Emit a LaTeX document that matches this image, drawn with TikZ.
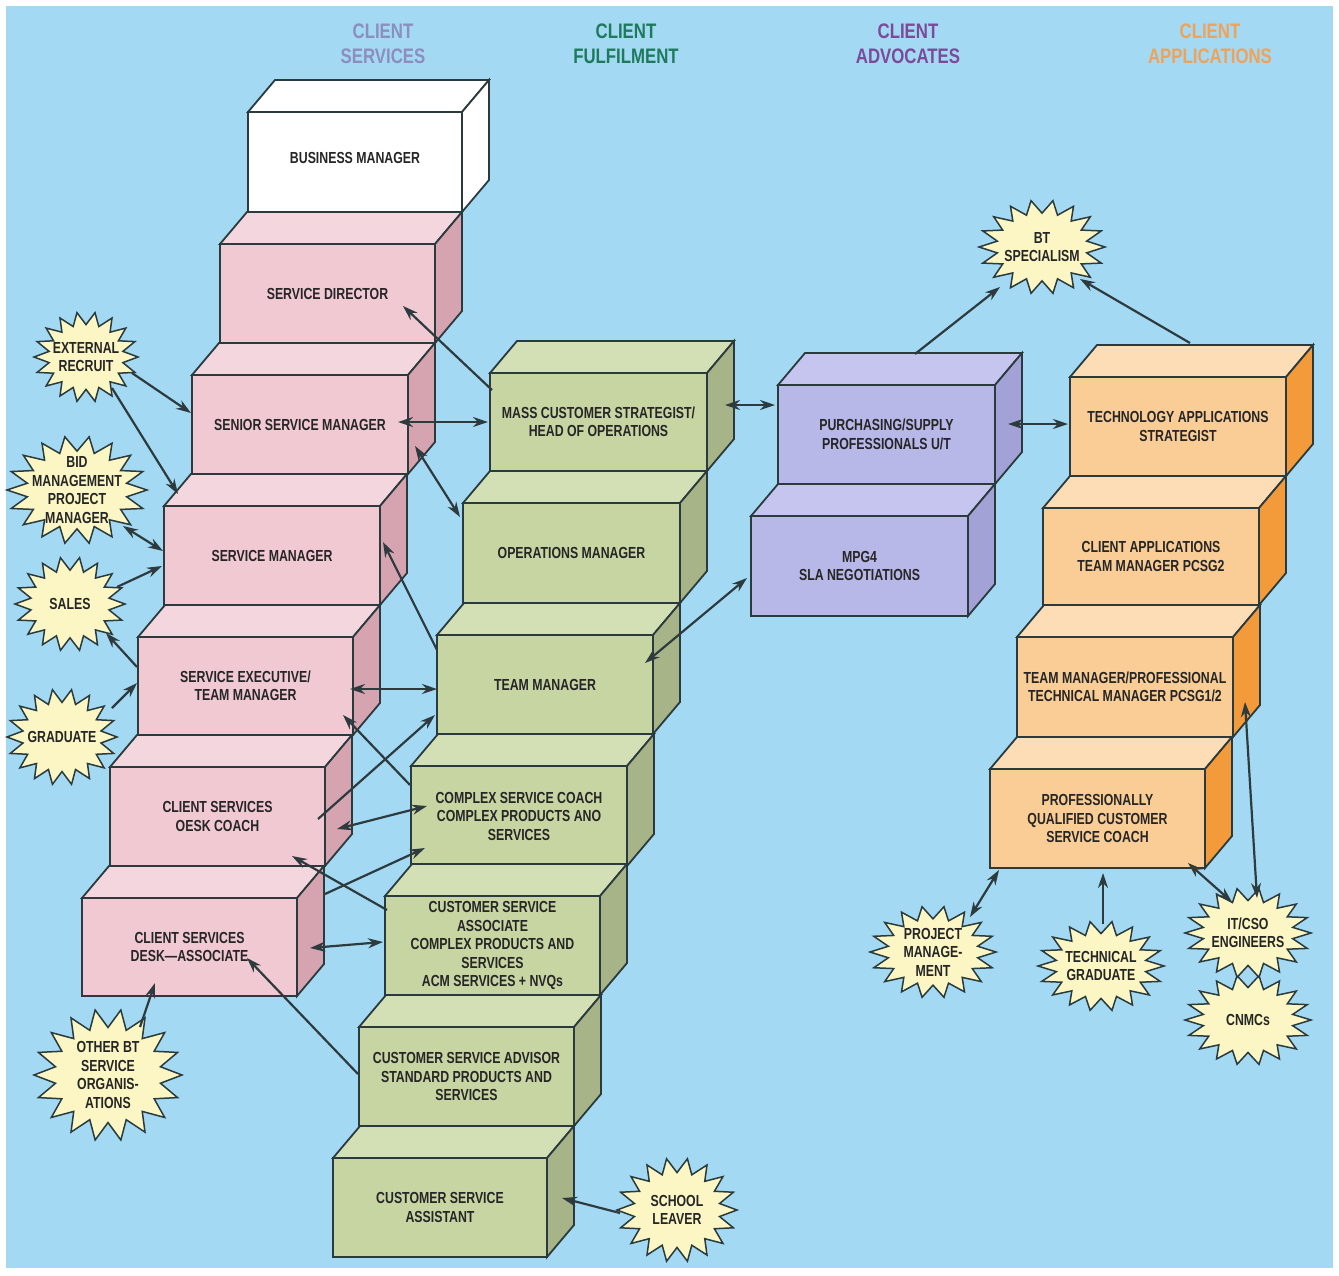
\documentclass[tikz,border=0pt]{standalone}
\usepackage{fontspec}
\newfontfamily\cf{Liberation Sans}[FakeStretch=0.77]
\newfontfamily\hf{Liberation Sans}[FakeStretch=0.8]
\usetikzlibrary{arrows.meta}
\definecolor{bg}{HTML}{A3D9F2}
\definecolor{edge}{HTML}{2B3A3C}
\definecolor{arrc}{HTML}{2E3B3E}
\definecolor{txt}{HTML}{262626}
\definecolor{pinkF}{HTML}{F0C9D3}
\definecolor{pinkT}{HTML}{F4D7DE}
\definecolor{pinkS}{HTML}{D6A3B1}
\definecolor{grnF}{HTML}{C7D5A3}
\definecolor{grnT}{HTML}{D3DFB5}
\definecolor{grnS}{HTML}{A7B487}
\definecolor{purF}{HTML}{B7B7E8}
\definecolor{purT}{HTML}{C5C5EF}
\definecolor{purS}{HTML}{A2A2D6}
\definecolor{orgF}{HTML}{FACD96}
\definecolor{orgT}{HTML}{FCDDB5}
\definecolor{orgS}{HTML}{F39A3A}
\definecolor{whtF}{HTML}{FFFFFF}
\definecolor{whtT}{HTML}{FFFFFF}
\definecolor{whtS}{HTML}{FFFFFF}
\definecolor{burstc}{HTML}{FBF6C4}
\definecolor{hdA}{HTML}{8C8EBE}
\definecolor{hdB}{HTML}{1E7A5C}
\definecolor{hdC}{HTML}{7B4A99}
\definecolor{hdD}{HTML}{EFA35A}
\tikzset{
  boxfront/.style={draw=edge, line width=1.8pt, outer sep=0pt, inner sep=1pt,
    align=center, text=txt, font=\cf\bfseries\fontsize{16}{18.5}\selectfont},
  boxedge/.style={draw=edge, line width=1.8pt, line join=miter},
  burstline/.style={draw=edge, fill=burstc, line width=1.5pt, line join=miter},
  bursttext/.style={align=center, inner sep=0pt, text=txt, font=\cf\bfseries\fontsize{16}{18.5}\selectfont},
  header/.style={align=center, inner sep=0pt, font=\hf\bfseries\fontsize{21}{24.5}\selectfont},
  arr/.style={draw=arrc, line width=2.2pt, -{Stealth[length=15pt,width=10pt]}},
  darr/.style={draw=arrc, line width=2.2pt, {Stealth[length=15pt,width=10pt]}-{Stealth[length=15pt,width=10pt]}}
}
\newcommand\dpx{27}
\newcommand\dpy{-32}
% name, L, T, R, B, colour prefix, text
\newcommand\cube[7]{%
  \node[boxfront, fill=#6F, minimum width={(#4-#2)*1pt}, minimum height={(#5-#3)*1pt}]
    (#1) at ({(#2+#4)/2},{(#3+#5)/2}) {#7};
  \filldraw[boxedge, fill=#6T] (#1.north west) -- ([shift={(\dpx,\dpy)}]#1.north west)
     -- ([shift={(\dpx,\dpy)}]#1.north east) -- (#1.north east) -- cycle;
  \filldraw[boxedge, fill=#6S] (#1.north east) -- ([shift={(\dpx,\dpy)}]#1.north east)
     -- ([shift={(\dpx,\dpy)}]#1.south east) -- (#1.south east) -- cycle;
}
% name, cx, cy, rx, ry, text
\newcommand\burst[6]{%
  \filldraw[burstline] ({#2+#4},#3) \foreach \k in {1,...,35} {
     -- ({#2+(mod(\k,2)==0?1:0.72)*#4*cos(\k*10)},{#3+(mod(\k,2)==0?1:0.72)*#5*sin(\k*10)})} -- cycle;
  \node[bursttext] (#1) at (#2,#3) {#6};
}
\begin{document}
\begin{tikzpicture}[x=1pt,y=-1pt]
\useasboundingbox (0,0) rectangle (1339,1275);
\fill[white] (0,0) rectangle (1339,1275);
\fill[bg] (6,6) rectangle (1333,1268);

% headers
\node[header, text=hdA] (hcs) at (383,44) {CLIENT\\SERVICES};
\node[header, text=hdB] (hcf) at (626,44) {CLIENT\\FULFILMENT};
\node[header, text=hdC] (hca) at (908,44) {CLIENT\\ADVOCATES};
\node[header, text=hdD] (hcp) at (1210,44) {CLIENT\\APPLICATIONS};

% client services column
\cube{bm}{248}{112}{462}{212}{wht}{\raisebox{8pt}{BUSINESS MANAGER}}
\cube{sd}{220}{244}{435}{343}{pink}{SERVICE DIRECTOR}
\cube{ssm}{192}{375}{408}{474}{pink}{SENIOR SERVICE MANAGER}
\cube{sm}{164}{506}{380}{605}{pink}{SERVICE MANAGER}
\cube{se}{138}{637}{353}{735}{pink}{SERVICE EXECUTIVE/\\TEAM MANAGER}
\cube{csdc}{110}{767}{325}{866}{pink}{CLIENT SERVICES\\OESK COACH}
\cube{csda}{82}{898}{297}{996}{pink}{CLIENT SERVICES\\DESK—ASSOCIATE}

% client fulfilment column
\cube{mcs}{490}{373}{707}{471}{grn}{MASS CUSTOMER STRATEGIST/\\HEAD OF OPERATIONS}
\cube{om}{463}{503}{680}{603}{grn}{OPERATIONS MANAGER}
\cube{tm}{437}{635}{653}{734}{grn}{TEAM MANAGER}
\cube{csc}{411}{766}{627}{866}{grn}{COMPLEX SERVICE COACH\\COMPLEX PRODUCTS ANO\\SERVICES}
\cube{csa}{385}{896}{600}{995}{grn}{CUSTOMER SERVICE\\ASSOCIATE\\COMPLEX PRODUCTS AND\\SERVICES\\ACM SERVICES + NVQs}
\cube{csadv}{359}{1027}{574}{1126}{grn}{CUSTOMER SERVICE ADVISOR\\STANDARD PRODUCTS AND\\SERVICES}
\cube{csasst}{333}{1158}{547}{1257}{grn}{CUSTOMER SERVICE\\ASSISTANT}

% client advocates column
\cube{psp}{778}{385}{995}{484}{pur}{PURCHASING/SUPPLY\\PROFESSIONALS U/T}
\cube{mpg}{751}{516}{968}{616}{pur}{MPG4\\SLA NEGOTIATIONS}

% client applications column
\cube{tas}{1070}{377}{1286}{476}{org}{TECHNOLOGY APPLICATIONS\\STRATEGIST}
\cube{cat}{1043}{508}{1259}{605}{org}{CLIENT APPLICATIONS\\TEAM MANAGER PCSG2}
\cube{tmp}{1017}{637}{1233}{737}{org}{TEAM MANAGER/PROFESSIONAL\\TECHNICAL MANAGER PCSG1/2}
\cube{pq}{990}{769}{1205}{868}{org}{PROFESSIONALLY\\QUALIFIED CUSTOMER\\SERVICE COACH}

% starbursts
\burst{ext}{86}{357}{52}{45}{EXTERNAL\\RECRUIT}
\burst{bid}{77}{490}{70}{54}{BID\\MANAGEMENT\\PROJECT\\MANAGER}
\burst{sales}{70}{604}{55}{47}{SALES}
\burst{grad}{62}{737}{55}{48}{GRADUATE}
\burst{other}{108}{1075}{74}{66}{OTHER BT\\SERVICE\\ORGANIS-\\ATIONS}
\burst{school}{677}{1210}{60}{52}{SCHOOL\\LEAVER}
\burst{bts}{1042}{247}{63}{47}{BT\\SPECIALISM}
\burst{pm}{933}{952}{63}{46}{PROJECT\\MANAGE-\\MENT}
\burst{tg}{1101}{966}{63}{45}{TECHNICAL\\GRADUATE}
\burst{cnmc}{1248}{1020}{63}{45}{CNMCs}
\burst{itcso}{1248}{933}{63}{45}{IT/CSO\\ENGINEERS}

% connectors
\draw[arr] ([shift={(2,17)}]mcs.north west) -- ([shift={(183,62)}]sd.north west);
\draw[darr] ([shift={(206,47)}]ssm.north west) -- ([shift={(-2,49)}]mcs.north west);
\draw[darr] ([shift={(223,71)}]ssm.north west) -- ([shift={(-3,14)}]om.north west);
\draw[arr] ([shift={(46,16)}]ext.center) -- ([shift={(-1,38)}]ssm.north west);
\draw[arr] ([shift={(26,31)}]ext.center) -- ([shift={(14,-12)}]sm.north west);
\draw[darr] ([shift={(46,36)}]bid.center) -- ([shift={(-1,45)}]sm.north west);
\draw[arr] ([shift={(47,-17)}]sales.center) -- ([shift={(-2,60)}]sm.north west);
\draw[arr] ([shift={(-1,30)}]se.north west) -- ([shift={(36,29)}]sales.center);
\draw[arr] ([shift={(50,-29)}]grad.center) -- ([shift={(-1,46)}]se.north west);
\draw[arr] ([shift={(0,15)}]tm.north west) -- ([shift={(219,36)}]sm.north west);
\draw[darr] ([shift={(212,52)}]se.north west) -- ([shift={(0,54)}]tm.north west);
\draw[arr] ([shift={(-1,19)}]csc.north west) -- ([shift={(205,78)}]se.north west);
\draw[arr] ([shift={(208,52)}]csdc.north west) -- ([shift={(-2,80)}]tm.north west);
\draw[darr] ([shift={(227,62)}]csdc.north west) -- ([shift={(16,40)}]csc.north west);
\draw[arr] ([shift={(2,14)}]csa.north west) -- ([shift={(182,89)}]csdc.north west);
\draw[arr] ([shift={(243,-4)}]csda.north west) -- ([shift={(14,82)}]csc.north west);
\draw[darr] ([shift={(228,50)}]csda.north west) -- ([shift={(-2,46)}]csa.north west);
\draw[arr] ([shift={(-1,47)}]csadv.north west) -- ([shift={(165,60)}]csda.north west);
\draw[arr] ([shift={(32,-48)}]other.center) -- ([shift={(73,85)}]csda.north west);
\draw[arr] ([shift={(-57,3)}]school.center) -- ([shift={(229,40)}]csasst.north west);
\draw[darr] ([shift={(235,32)}]mcs.north west) -- ([shift={(-3,20)}]psp.north west);
\draw[darr] ([shift={(208,28)}]tm.north west) -- ([shift={(-4,62)}]mpg.north west);
\draw[darr] ([shift={(230,39)}]psp.north west) -- ([shift={(-2,47)}]tas.north west);
\draw[arr] ([shift={(137,-31)}]psp.north west) -- ([shift={(-42,40)}]bts.center);
\draw[arr] ([shift={(120,-34)}]tas.north west) -- ([shift={(38,32)}]bts.center);
\draw[darr] ([shift={(37,-35)}]pm.center) -- ([shift={(9,101)}]pq.north west);
\draw[arr] ([shift={(2,-42)}]tg.center) -- ([shift={(113,104)}]pq.north west);
\draw[darr] ([shift={(-16,-31)}]itcso.center) -- ([shift={(198,94)}]pq.north west);
\draw[darr] ([shift={(9,-35)}]itcso.center) -- ([shift={(228,65)}]tmp.north west);
\end{tikzpicture}
\end{document}
